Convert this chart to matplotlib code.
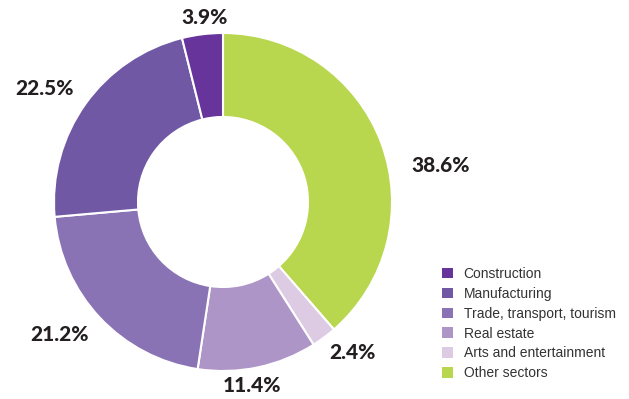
import matplotlib.pyplot as plt
from matplotlib.patches import Patch
import numpy as np

# sector shares, drawn clockwise from 12 o'clock
sectors = ["Other sectors", "Arts and entertainment", "Real estate",
           "Trade, transport, tourism", "Manufacturing", "Construction"]
shares = [38.6, 2.4, 11.4, 21.2, 22.5, 3.9]
colors = ["#b8d64e", "#dccbe3", "#ad95c7", "#8a73b5", "#7058a4", "#66349a"]

# label placement: (angle in degrees, distance from centre in px)
label_pos = [(9.4, 221), (-49.3, 199), (279, 186), (219, 210), (147.5, 212), (95.6, 185)]

W, H = 629, 399
cx, cy, R = 223, H - 202, 169

fig = plt.figure(figsize=(W / 100, H / 100), dpi=100)
ax = fig.add_axes([0, 0, 1, 1])
ax.pie(shares, colors=colors, startangle=90, counterclock=False,
       center=(cx, cy), radius=R,
       wedgeprops=dict(width=R * 0.497, edgecolor="white", linewidth=1.5))
ax.set_xlim(0, W)
ax.set_ylim(0, H)
ax.set_aspect("equal")
ax.axis("off")

for val, (ang, dist) in zip(shares, label_pos):
    a = np.deg2rad(ang)
    ax.text(cx + dist * np.cos(a), cy + dist * np.sin(a), f"{val}%",
            ha="center", va="center", fontsize=15, fontweight="black",
            family="Lato", color="#231f20")

handles = [Patch(facecolor=c, edgecolor="none") for c in colors[::-1]]
leg = ax.legend(handles, sectors[::-1], loc="upper left",
                bbox_to_anchor=(442 / W, 1 - 267 / H), frameon=False,
                prop={"family": "Liberation Sans", "size": 10},
                handlelength=0.8, handleheight=0.8, handletextpad=0.75,
                labelspacing=0.42, borderpad=0, borderaxespad=0)
for t in leg.get_texts():
    t.set_color("#333333")

fig.savefig("out.png", dpi=100)
